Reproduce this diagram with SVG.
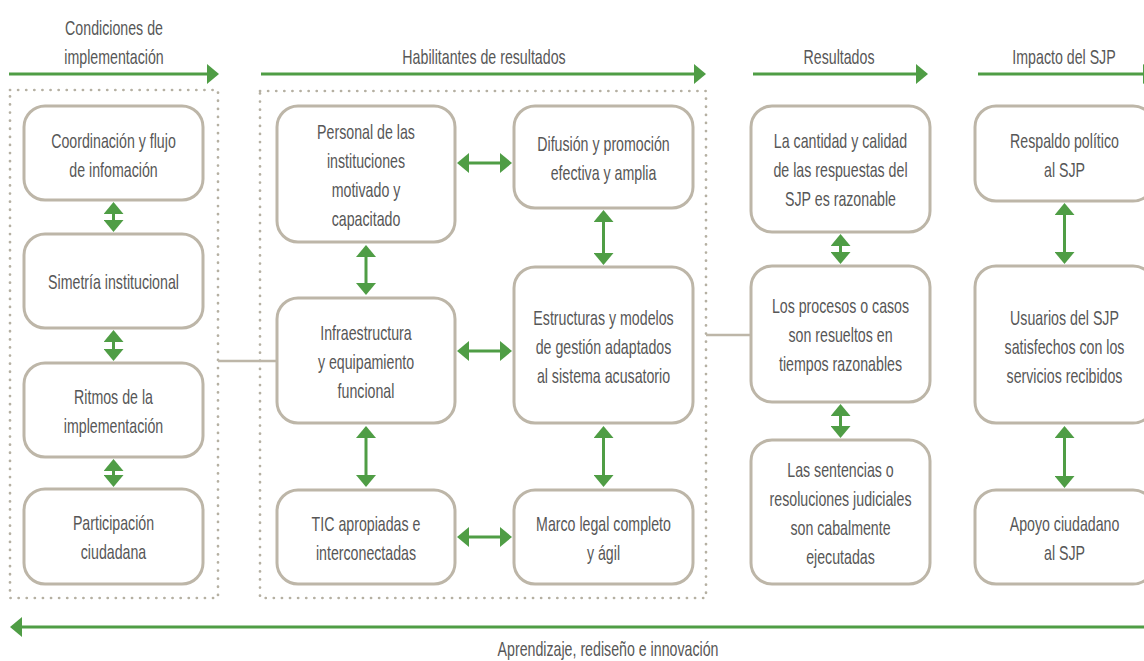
<svg xmlns="http://www.w3.org/2000/svg" width="1144" height="661" viewBox="0 0 1144 661">
<style>
.bg{fill:#ffffff}
.node rect{fill:#ffffff;stroke:#bdb6a8;stroke-width:3}
.t{font-family:"Liberation Sans",Arial,sans-serif;font-size:20px;fill:#575757;text-anchor:middle}
.dot{fill:none;stroke:#b5b0a2;stroke-width:2.7;stroke-dasharray:0.1 8;stroke-linecap:round}
.ga{stroke:#4f9d45;stroke-width:3;fill:none}
.gl{stroke:#bdb6a8;stroke-width:2.5;fill:none}
</style>
<defs>
<marker id="ah" markerUnits="userSpaceOnUse" markerWidth="12" markerHeight="20" viewBox="0 0 12 20" refX="8" refY="10" orient="auto-start-reverse">
<path d="M0,0 L12,10 L0,20 Z" fill="#4f9d45"/>
</marker>
</defs>
<rect class="bg" x="0" y="0" width="1144" height="661"/>

<g id="headers">
<text class="t" transform="translate(114 0) scale(0.71 1)" x="0" y="35">Condiciones de</text>
<text class="t" transform="translate(114 0) scale(0.71 1)" x="0" y="64">implementación</text>
<text class="t" transform="translate(484 0) scale(0.71 1)" x="0" y="64">Habilitantes de resultados</text>
<text class="t" transform="translate(839 0) scale(0.71 1)" x="0" y="64">Resultados</text>
<text class="t" transform="translate(1064 0) scale(0.71 1)" x="0" y="64">Impacto del SJP</text>
<text class="t" transform="translate(608 0) scale(0.71 1)" x="0" y="656">Aprendizaje, rediseño e innovación</text>
</g>

<g id="groups">
<rect class="dot" x="10" y="90" width="208" height="508"/>
<rect class="dot" x="260" y="91" width="446" height="507"/>
</g>

<g id="connectors">
<line class="ga" x1="9" y1="74" x2="215" y2="74" marker-end="url(#ah)"/>
<line class="ga" x1="261" y1="74" x2="702" y2="74" marker-end="url(#ah)"/>
<line class="ga" x1="753" y1="74" x2="924" y2="74" marker-end="url(#ah)"/>
<line class="ga" x1="978" y1="74" x2="1151" y2="74" marker-end="url(#ah)"/>
<line class="ga" x1="1144" y1="627" x2="14" y2="627" marker-end="url(#ah)"/>

<line class="gl" x1="218" y1="361" x2="277" y2="361"/>
<line class="gl" x1="706" y1="335" x2="751" y2="335"/>

<line class="ga" x1="113.5" y1="206" x2="113.5" y2="228" marker-start="url(#ah)" marker-end="url(#ah)"/>
<line class="ga" x1="113.5" y1="334" x2="113.5" y2="357" marker-start="url(#ah)" marker-end="url(#ah)"/>
<line class="ga" x1="113.5" y1="463" x2="113.5" y2="483" marker-start="url(#ah)" marker-end="url(#ah)"/>

<line class="ga" x1="366" y1="249" x2="366" y2="291" marker-start="url(#ah)" marker-end="url(#ah)"/>
<line class="ga" x1="366" y1="430" x2="366" y2="483" marker-start="url(#ah)" marker-end="url(#ah)"/>
<line class="ga" x1="603.5" y1="214" x2="603.5" y2="261" marker-start="url(#ah)" marker-end="url(#ah)"/>
<line class="ga" x1="603.5" y1="430" x2="603.5" y2="483" marker-start="url(#ah)" marker-end="url(#ah)"/>
<line class="ga" x1="461" y1="163" x2="508" y2="163" marker-start="url(#ah)" marker-end="url(#ah)"/>
<line class="ga" x1="461" y1="351" x2="508" y2="351" marker-start="url(#ah)" marker-end="url(#ah)"/>
<line class="ga" x1="461" y1="537" x2="508" y2="537" marker-start="url(#ah)" marker-end="url(#ah)"/>

<line class="ga" x1="840.5" y1="238" x2="840.5" y2="260" marker-start="url(#ah)" marker-end="url(#ah)"/>
<line class="ga" x1="840.5" y1="408" x2="840.5" y2="434" marker-start="url(#ah)" marker-end="url(#ah)"/>
<line class="ga" x1="1064.5" y1="207" x2="1064.5" y2="260" marker-start="url(#ah)" marker-end="url(#ah)"/>
<line class="ga" x1="1064.5" y1="430" x2="1064.5" y2="484" marker-start="url(#ah)" marker-end="url(#ah)"/>
</g>

<g id="n-coordinacion" class="node">
<rect x="24" y="106" width="179" height="94" rx="21"/>
<text class="t" transform="translate(113.5 0) scale(0.71 1)"><tspan x="0" y="148">Coordinación y flujo</tspan><tspan x="0" y="177">de infomación</tspan></text>
</g>
<g id="n-simetria" class="node">
<rect x="24" y="234" width="179" height="94" rx="21"/>
<text class="t" transform="translate(113.5 0) scale(0.71 1)"><tspan x="0" y="289.5">Simetría institucional</tspan></text>
</g>
<g id="n-ritmos" class="node">
<rect x="24" y="363" width="179" height="94" rx="21"/>
<text class="t" transform="translate(113.5 0) scale(0.71 1)"><tspan x="0" y="404">Ritmos de la</tspan><tspan x="0" y="433">implementación</tspan></text>
</g>
<g id="n-participacion" class="node">
<rect x="24" y="489" width="179" height="95" rx="21"/>
<text class="t" transform="translate(113.5 0) scale(0.71 1)"><tspan x="0" y="530.5">Participación</tspan><tspan x="0" y="559.5">ciudadana</tspan></text>
</g>

<g id="n-personal" class="node">
<rect x="277" y="106" width="178" height="136" rx="21"/>
<text class="t" transform="translate(366 0) scale(0.71 1)"><tspan x="0" y="139">Personal de las</tspan><tspan x="0" y="168">instituciones</tspan><tspan x="0" y="197">motivado y</tspan><tspan x="0" y="226">capacitado</tspan></text>
</g>
<g id="n-infraestructura" class="node">
<rect x="277" y="298" width="178" height="125" rx="21"/>
<text class="t" transform="translate(366 0) scale(0.71 1)"><tspan x="0" y="340">Infraestructura</tspan><tspan x="0" y="369">y equipamiento</tspan><tspan x="0" y="398">funcional</tspan></text>
</g>
<g id="n-tic" class="node">
<rect x="277" y="490" width="178" height="94" rx="21"/>
<text class="t" transform="translate(366 0) scale(0.71 1)"><tspan x="0" y="531">TIC apropiadas e</tspan><tspan x="0" y="560">interconectadas</tspan></text>
</g>
<g id="n-difusion" class="node">
<rect x="514" y="106" width="179" height="102" rx="21"/>
<text class="t" transform="translate(603.5 0) scale(0.71 1)"><tspan x="0" y="151.5">Difusión y promoción</tspan><tspan x="0" y="180.5">efectiva y amplia</tspan></text>
</g>
<g id="n-estructuras" class="node">
<rect x="514" y="267" width="179" height="156" rx="21"/>
<text class="t" transform="translate(603.5 0) scale(0.71 1)"><tspan x="0" y="325">Estructuras y modelos</tspan><tspan x="0" y="354">de gestión adaptados</tspan><tspan x="0" y="383">al sistema acusatorio</tspan></text>
</g>
<g id="n-marco" class="node">
<rect x="514" y="490" width="179" height="94" rx="21"/>
<text class="t" transform="translate(603.5 0) scale(0.71 1)"><tspan x="0" y="531">Marco legal completo</tspan><tspan x="0" y="560">y ágil</tspan></text>
</g>

<g id="n-cantidad" class="node">
<rect x="751" y="106" width="179" height="126" rx="21"/>
<text class="t" transform="translate(840.5 0) scale(0.71 1)"><tspan x="0" y="148">La cantidad y calidad</tspan><tspan x="0" y="177">de las respuestas del</tspan><tspan x="0" y="206">SJP es razonable</tspan></text>
</g>
<g id="n-procesos" class="node">
<rect x="751" y="266" width="179" height="136" rx="21"/>
<text class="t" transform="translate(840.5 0) scale(0.71 1)"><tspan x="0" y="313">Los procesos o casos</tspan><tspan x="0" y="342">son resueltos en</tspan><tspan x="0" y="371">tiempos razonables</tspan></text>
</g>
<g id="n-sentencias" class="node">
<rect x="751" y="440" width="179" height="144" rx="21"/>
<text class="t" transform="translate(840.5 0) scale(0.71 1)"><tspan x="0" y="477">Las sentencias o</tspan><tspan x="0" y="506">resoluciones judiciales</tspan><tspan x="0" y="535">son cabalmente</tspan><tspan x="0" y="564">ejecutadas</tspan></text>
</g>

<g id="n-respaldo" class="node">
<rect x="975" y="106" width="179" height="95" rx="21"/>
<text class="t" transform="translate(1064.5 0) scale(0.71 1)"><tspan x="0" y="148">Respaldo político</tspan><tspan x="0" y="177">al SJP</tspan></text>
</g>
<g id="n-usuarios" class="node">
<rect x="975" y="266" width="179" height="157" rx="21"/>
<text class="t" transform="translate(1064.5 0) scale(0.71 1)"><tspan x="0" y="325">Usuarios del SJP</tspan><tspan x="0" y="354">satisfechos con los</tspan><tspan x="0" y="383">servicios recibidos</tspan></text>
</g>
<g id="n-apoyo" class="node">
<rect x="975" y="490" width="179" height="94" rx="21"/>
<text class="t" transform="translate(1064.5 0) scale(0.71 1)"><tspan x="0" y="531">Apoyo ciudadano</tspan><tspan x="0" y="560">al SJP</tspan></text>
</g>
</svg>
